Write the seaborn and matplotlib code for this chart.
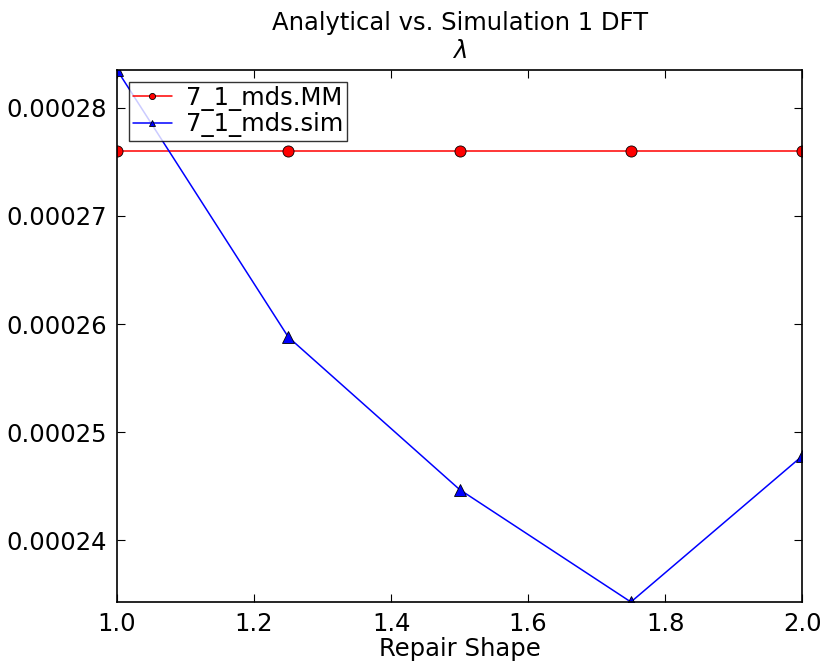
import matplotlib
matplotlib.use("Agg")
import matplotlib.pyplot as plt
import seaborn as sns
import pandas as pd

x_vals = [1.0, 1.25, 1.5, 1.75, 2.0]
mm_vals = [0.0002760, 0.0002760, 0.0002760, 0.0002760, 0.0002760]
sim_vals = [0.0002835, 0.0002588, 0.0002447, 0.0002343, 0.0002478]
labels = ["7_1_mds.MM", "7_1_mds.sim"]

sns.set_style("white")
plt.rcParams['font.family'] = ['DejaVu Sans']
plt.rcParams['text.color'] = 'black'
plt.rcParams['axes.labelcolor'] = 'black'
plt.rcParams['xtick.color'] = 'black'
plt.rcParams['ytick.color'] = 'black'

fig = plt.figure(figsize=(8.27, 6.7), dpi=100)
ax = fig.add_axes([0.1415, 0.1015, 0.8285, 0.794])

df_mm = pd.DataFrame({"x": x_vals, "y": mm_vals})
df_sim = pd.DataFrame({"x": x_vals, "y": sim_vals})
sns.lineplot(data=df_mm, x="x", y="y", ax=ax, color="red", marker="o", markersize=8,
             markeredgecolor="black", markeredgewidth=0.6, linewidth=1.1, label=labels[0])
sns.lineplot(data=df_sim, x="x", y="y", ax=ax, color="blue", marker="^", markersize=8,
             markeredgecolor="black", markeredgewidth=0.6, linewidth=1.1, label=labels[1])

ax.set_xlim(1.0, 2.0)
ax.set_ylim(min(sim_vals), max(sim_vals))
ax.set_xticks([1.0, 1.2, 1.4, 1.6, 1.8, 2.0])
ax.set_xticklabels(["1.0", "1.2", "1.4", "1.6", "1.8", "2.0"])
ax.set_yticks([0.00024, 0.00025, 0.00026, 0.00027, 0.00028])
ax.set_yticklabels(["0.00024", "0.00025", "0.00026", "0.00027", "0.00028"])
ax.tick_params(axis='both', labelsize=17.5, length=6, width=0.8, direction='in',
               top=True, right=True, bottom=True, left=True, pad=7, colors='black')
for s in ax.spines.values():
    s.set_color("black")
    s.set_linewidth(1.2)
ax.set_xlabel("Repair Shape", fontsize=17.5, labelpad=1, color='black')
ax.set_ylabel("")
ax.set_title("Analytical vs. Simulation 1 DFT\n$\\lambda$", fontsize=17.5, pad=9, color='black')

leg = ax.legend(loc="upper left", fontsize=17.5, frameon=True, fancybox=False,
                borderpad=0.15, labelspacing=0.05, handlelength=1.6, handletextpad=0.6,
                borderaxespad=0.5, markerscale=0.55)
leg.get_frame().set_edgecolor("black")
leg.get_frame().set_linewidth(1.0)
for t in leg.get_texts():
    t.set_color("black")

fig.savefig("out.png", dpi=100)
